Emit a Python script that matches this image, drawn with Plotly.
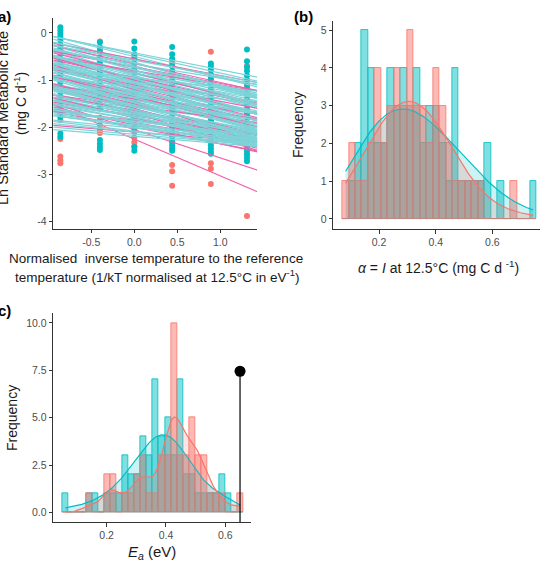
import numpy as np
import plotly.graph_objects as go

W, H = 558, 570

# ---------------- Panel (a) data ----------------
temp_x = [-0.86, -0.40, 0.0, 0.44, 0.89, 1.31]
cyan_pts = [
    [0.12, 0.05, -0.02, -0.08, -0.15, -0.25, -0.35, -0.45, -0.55, -0.65, -0.75, -0.85, -0.95,
     -1.05, -1.15, -1.25, -1.35, -1.45, -1.55, -1.62, -1.70, -1.78, -2.13, -2.20],
    [-0.20, -0.30, -0.40, -0.52, -0.62, -0.72, -0.82, -0.92, -1.02, -1.12, -1.22, -1.32, -1.42,
     -1.52, -1.60, -2.27, -2.35, -2.42, -2.48],
    [-0.18, -0.33, -0.45, -0.55, -0.65, -0.75, -0.85, -0.95, -1.05, -1.15, -1.25, -1.35, -1.45,
     -1.55, -1.65, -1.75, -1.85, -1.95, -2.05, -2.42, -2.50],
    [-0.30, -0.45, -0.55, -0.70, -0.80, -0.90, -1.00, -1.10, -1.20, -1.30, -1.40, -1.50, -1.60,
     -1.70, -1.80, -1.90, -2.00, -2.10, -2.20, -2.30, -2.38, -2.45, -2.50],
    [-0.65, -0.70, -0.78, -0.88, -0.98, -1.08, -1.18, -1.28, -1.38, -1.48, -1.58, -1.68, -1.78,
     -1.88, -1.98, -2.08, -2.18, -2.28, -2.38, -2.45, -2.52, -2.56],
    [-0.35, -0.60, -0.72, -0.80, -0.90, -1.00, -1.10, -1.20, -1.30, -1.40, -1.50, -1.60, -1.70,
     -1.80, -1.90, -2.00, -2.10, -2.20, -2.30, -2.40, -2.50, -2.58, -2.65, -2.72],
]
salmon_pts = [
    [-0.30, -0.60, -0.90, -1.20, -1.40, -1.65, -1.85, -2.25, -2.62, -2.70, -2.76],
    [-0.18, -0.35, -0.70, -1.00, -1.30, -1.60, -1.80, -1.95, -2.05, -2.12],
    [-0.50, -0.80, -1.10, -1.40, -1.70, -1.95, -2.10, -2.22, -2.32, -2.40],
    [-0.58, -0.63, -0.68, -1.00, -1.30, -1.60, -1.90, -2.15, -2.32, -2.80, -2.93, -3.24],
    [-0.40, -0.95, -1.25, -1.55, -1.85, -2.15, -2.32, -2.76, -2.88, -3.20],
    [-0.70, -1.15, -1.45, -1.75, -2.05, -2.35, -2.55, -3.88],
]
# individual regressions: value at x = 0 and slope
cyan_int = [-0.42, -0.50, -0.56, -0.62, -0.66, -0.70, -0.74, -0.78, -0.81, -0.84, -0.87, -0.90,
            -0.93, -0.96, -0.98, -1.01, -1.04, -1.06, -1.09, -1.12, -1.14, -1.17, -1.20, -1.22,
            -1.25, -1.27, -1.30, -1.32, -1.35, -1.37, -1.40, -1.42, -1.45, -1.47, -1.50, -1.52,
            -1.55, -1.58, -1.61, -1.64, -1.67, -1.70, -1.73, -1.76, -1.80, -1.84, -1.88, -1.92,
            -1.97, -2.02, -2.08, -2.15, -2.19,
            -0.45, -0.58, -0.64, -0.72, -0.79, -0.85, -0.91, -0.97, -1.03, -1.08, -1.13, -1.18,
            -1.23, -1.28, -1.33, -1.38, -1.43, -1.48, -1.53, -1.57, -1.62, -1.66, -1.71, -1.75,
            -1.79, -1.83, -1.87, -1.91, -1.95, -2.00, -1.05, -1.15, -1.26, -1.36, -1.46, -1.56,
            -0.95, -1.68, -1.78, -2.10]
cyan_slope = [-0.36, -0.45, -0.38, -0.52, -0.30, -0.48, -0.42, -0.55, -0.35, -0.46, -0.40, -0.58,
              -0.32, -0.44, -0.50, -0.38, -0.47, -0.28, -0.53, -0.41, -0.36, -0.49, -0.43, -0.60,
              -0.33, -0.45, -0.39, -0.51, -0.26, -0.42, -0.47, -0.35, -0.40, -0.55, -0.30, -0.44,
              -0.38, -0.22, -0.48, -0.34, -0.41, -0.29, -0.37, -0.25, -0.43, -0.31, -0.20, -0.35,
              -0.27, -0.18, -0.22, -0.16, -0.15,
              -0.40, -0.33, -0.47, -0.39, -0.50, -0.36, -0.43, -0.52, -0.30, -0.45, -0.41, -0.56,
              -0.34, -0.48, -0.37, -0.44, -0.29, -0.51, -0.40, -0.35, -0.46, -0.32, -0.42, -0.27,
              -0.38, -0.33, -0.24, -0.30, -0.21, -0.26, -0.62, -0.25, -0.57, -0.22, -0.54, -0.47,
              -0.20, -0.50, -0.36, -0.19]
pink_int = [-0.55, -0.65, -0.72, -0.80, -0.85, -0.95, -1.00, -1.10, -1.15, -1.20, -1.28, -1.35,
            -1.40, -1.50, -1.55, -1.60, -1.65, -1.70, -1.75, -1.80, -1.85, -1.90, -2.00, -2.05,
            -2.10, -2.25, -1.95, -1.45]
pink_slope = [-0.35, -0.40, -0.35, -0.30, -0.45, -0.40, -0.50, -0.35, -0.45, -0.55, -0.40, -0.45,
              -0.30, -0.45, -0.25, -0.50, -0.35, -0.55, -0.30, -0.45, -0.20, -0.30, -0.35, -0.60,
              -0.15, -0.78, -0.40, -0.60]

# ---------------- Panel (b) data ----------------
alpha_bin_start = 0.0706
alpha_bin_width = 0.02282
alpha_red_counts = [1, 2, 1, 1, 2, 4, 2, 3, 4, 3, 5, 3, 3, 2, 4, 3, 2, 1, 1, 1,
                    1, 1, 0, 0, 0, 0, 1, 0, 0, 0]
alpha_cyan_counts = [0, 1, 2, 5, 4, 2, 2, 4, 3, 4, 3, 4, 2, 3, 3, 2, 1, 4, 1, 1,
                     1, 1, 2, 0, 1, 0, 0, 0, 0, 1]
alpha_kde_bw = {"red": 0.08, "cyan": 0.1}

# ---------------- Panel (c) data ----------------
ea_bin_start = 0.0504
ea_bin_width = 0.02034
ea_red_counts = [0, 0, 0, 0, 1, 0, 0, 2, 2, 0, 1, 1, 2, 3, 1, 1, 3, 3, 10, 3,
                 3, 5, 3, 3, 1, 1, 1, 0, 0, 1]
ea_cyan_counts = [1, 0, 0, 0, 1, 1, 0, 1, 1, 1, 3, 2, 2, 4, 3, 7, 4, 5, 3, 7,
                  2, 2, 1, 1, 1, 1, 2, 1, 0, 0]
ea_kde_bw = {"red": 0.028, "cyan": 0.058}
mark_ea = [0.65]
mark_freq = [7.45]

# ---------------- helpers ----------------
RED = "248,118,109"
CYAN = "0,191,196"
FONT = "Arial, Liberation Sans, sans-serif"


def px_x(p):
    return p / W


def px_y(p):
    return 1 - p / H


def kde(centers, counts, binw, h, lo, hi, n=256):
    s = np.repeat(np.asarray(centers), counts)
    xs = np.linspace(lo, hi, n)
    d = np.exp(-0.5 * ((xs[:, None] - s[None, :]) / h) ** 2).sum(1) / (len(s) * h * np.sqrt(2 * np.pi))
    return xs, d * len(s) * binw


fig = go.Figure()

# ----- panel (a)
xa_rng = [-0.942, 1.43]
ya_rng = [-4.15, 0.31]
for col, vals in zip(temp_x, salmon_pts):
    fig.add_trace(go.Scatter(x=[col] * len(vals), y=vals, mode="markers", xaxis="x", yaxis="y",
                             marker=dict(size=6, color=f"rgb({RED})"), hoverinfo="skip"))
for col, vals in zip(temp_x, cyan_pts):
    fig.add_trace(go.Scatter(x=[col] * len(vals), y=vals, mode="markers", xaxis="x", yaxis="y",
                             marker=dict(size=6, color=f"rgb({CYAN})"), hoverinfo="skip"))


def abline_xy(ints, slopes):
    xs, ys = [], []
    for a, b in zip(ints, slopes):
        xs += [xa_rng[0], xa_rng[1], None]
        ys += [a + b * xa_rng[0], a + b * xa_rng[1], None]
    return xs, ys


CYAN_LINE = dict(color="rgb(125,212,216)", width=1.25)
PINK_LINE = dict(color="rgb(238,98,172)", width=1.1)
half = len(cyan_int) // 2
lx, ly = abline_xy(cyan_int[:half], cyan_slope[:half])
fig.add_trace(go.Scatter(x=lx, y=ly, mode="lines", xaxis="x", yaxis="y", line=CYAN_LINE,
                         hoverinfo="skip"))
lx, ly = abline_xy(pink_int, pink_slope)
fig.add_trace(go.Scatter(x=lx, y=ly, mode="lines", xaxis="x", yaxis="y", line=PINK_LINE,
                         hoverinfo="skip"))
lx, ly = abline_xy(cyan_int[half:], cyan_slope[half:])
fig.add_trace(go.Scatter(x=lx, y=ly, mode="lines", xaxis="x", yaxis="y", line=CYAN_LINE,
                         hoverinfo="skip"))


# ----- histograms
def add_hist(start, bw, counts, color, alpha, xa, ya):
    centers = [start + bw * (k + 0.5) for k in range(len(counts))]
    fig.add_trace(go.Bar(x=centers, y=counts, width=bw, xaxis=xa, yaxis=ya,
                         marker=dict(color=f"rgba({color},{alpha})",
                                     line=dict(color=f"rgba({color},0.9)", width=0.9)),
                         hoverinfo="skip"))
    return centers


def add_dens(centers, counts, bw, h, lo, hi, color, alpha, xa, ya):
    xs, ys = kde(centers, counts, bw, h, lo, hi)
    fig.add_trace(go.Scatter(x=xs, y=ys, mode="lines", fill="tozeroy", xaxis=xa, yaxis=ya,
                             fillcolor=f"rgba({color},{alpha})",
                             line=dict(color=f"rgb({color})", width=1.2), hoverinfo="skip"))


def data_range(centers, *count_lists):
    used = [c for cl in count_lists for c, n in zip(centers, cl) if n > 0]
    return min(used), max(used)


cb = add_hist(alpha_bin_start, alpha_bin_width, alpha_cyan_counts, CYAN, 0.5, "x2", "y2")
rb = add_hist(alpha_bin_start, alpha_bin_width, alpha_red_counts, RED, 0.5, "x2", "y2")
blo, bhi = data_range(cb, alpha_cyan_counts, alpha_red_counts)
add_dens(cb, alpha_cyan_counts, alpha_bin_width, alpha_kde_bw["cyan"], blo, bhi, CYAN, 0.2, "x2", "y2")
add_dens(rb, alpha_red_counts, alpha_bin_width, alpha_kde_bw["red"], blo, bhi, RED, 0.2, "x2", "y2")

cc = add_hist(ea_bin_start, ea_bin_width, ea_cyan_counts, CYAN, 0.5, "x3", "y3")
rc = add_hist(ea_bin_start, ea_bin_width, ea_red_counts, RED, 0.5, "x3", "y3")
clo, chi = data_range(cc, ea_cyan_counts, ea_red_counts)
add_dens(cc, ea_cyan_counts, ea_bin_width, ea_kde_bw["cyan"], clo, chi, CYAN, 0.2, "x3", "y3")
add_dens(rc, ea_red_counts, ea_bin_width, ea_kde_bw["red"], clo, chi, RED, 0.2, "x3", "y3")

yc_rng = [-0.51, 10.51]
fig.add_trace(go.Scatter(x=[mark_ea[0], mark_ea[0]], y=[yc_rng[0], mark_freq[0]], mode="lines",
                         xaxis="x3", yaxis="y3", line=dict(color="black", width=1.2),
                         hoverinfo="skip"))
fig.add_trace(go.Scatter(x=mark_ea, y=mark_freq, mode="markers", xaxis="x3", yaxis="y3",
                         marker=dict(size=11, color="black"), hoverinfo="skip"))

axis_common = dict(showline=True, linecolor="#333333", linewidth=1.2, ticks="outside",
                   ticklen=3.5, tickwidth=1.1, tickcolor="#333333", showgrid=False,
                   zeroline=False, tickfont=dict(family=FONT, size=10.5, color="#4d4d4d"))

fig.update_layout(
    width=W, height=H, margin=dict(l=0, r=0, t=0, b=0),
    paper_bgcolor="white", plot_bgcolor="white", showlegend=False, barmode="overlay",
    bargap=0,
    xaxis=dict(domain=[px_x(53.3), px_x(257.3)], anchor="y", range=xa_rng,
               tickvals=[-0.5, 0, 0.5, 1.0], ticktext=["-0.5", "0.0", "0.5", "1.0"], **axis_common),
    yaxis=dict(domain=[px_y(228.7), px_y(18.3)], anchor="x", range=ya_rng,
               tickvals=[-4, -3, -2, -1, 0], ticktext=["-4", "-3", "-2", "-1", "0"], **axis_common),
    xaxis2=dict(domain=[px_x(333.3), px_x(540)], anchor="y2", range=[0.0387, 0.768],
                tickvals=[0.2, 0.4, 0.6], ticktext=["0.2", "0.4", "0.6"], **axis_common),
    yaxis2=dict(domain=[px_y(229), px_y(21)], anchor="x2", range=[-0.265, 5.24],
                tickvals=[0, 1, 2, 3, 4, 5], **axis_common),
    xaxis3=dict(domain=[px_x(53.3), px_x(250.7)], anchor="y3", range=[0.02, 0.686],
                tickvals=[0.2, 0.4, 0.6], ticktext=["0.2", "0.4", "0.6"], **axis_common),
    yaxis3=dict(domain=[px_y(522), px_y(313.3)], anchor="x3", range=yc_rng,
                tickvals=[0, 2.5, 5, 7.5, 10], ticktext=["0.0", "2.5", "5.0", "7.5", "10.0"],
                **axis_common),
)


def ann(text, x, y, size, angle=0, xanchor="center", color="#1a1a1a"):
    fig.add_annotation(text=text, x=px_x(x), y=px_y(y), xref="paper", yref="paper",
                       showarrow=False, textangle=angle, xanchor=xanchor, yanchor="middle",
                       font=dict(family=FONT, size=size, color=color))


ann("<b>(a)</b>", 12.5, 17, 15, xanchor="right", color="black")
ann("<b>(b)</b>", 303, 17, 15, color="black")
ann("<b>(c)</b>", 12.5, 310, 15, xanchor="right", color="black")

ann("Ln Standard Metabolic rate", 3, 118, 14.5, angle=-90)
ann("(mg C d<sup>-1</sup>)", 20, 104, 14, angle=-90)
ann("Normalised  inverse temperature to the reference", 156, 258, 13.5)
ann("temperature (1/kT normalised at 12.5°C in eV<sup>-1</sup>)", 157, 276, 13.5)

ann("Frequency", 298, 125, 14, angle=-90)
ann("<i>α</i> = <i>I</i> at 12.5°C (mg C d <sup>-1</sup>)", 438, 267, 14)

ann("Frequency", 12, 418, 14, angle=-90)
ann("<i>E<sub>a</sub></i> (eV)", 152, 552, 15)

fig.write_html("out.html")
